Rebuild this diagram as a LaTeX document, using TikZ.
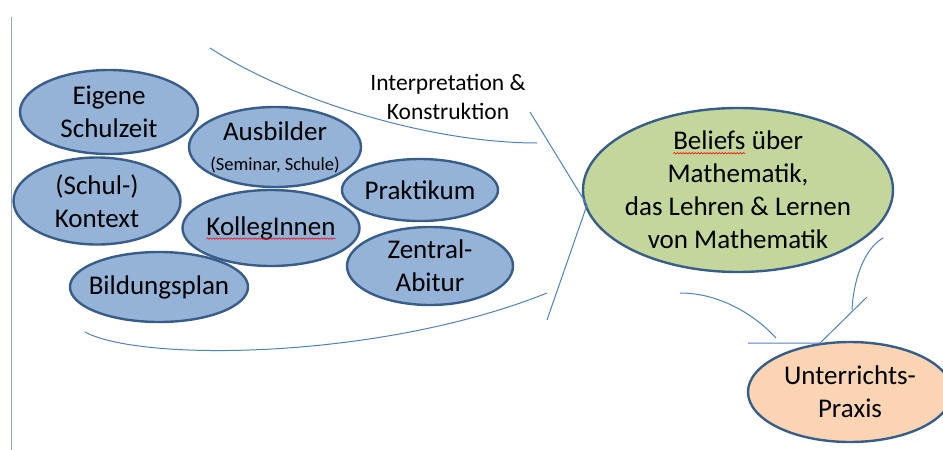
\documentclass[tikz,border=0pt]{standalone}
\usepackage{fontspec}
\setmainfont{Carlito}
\usepackage{tikz}
\usetikzlibrary{positioning,shapes.geometric,decorations.pathmorphing}

\definecolor{bubblefill}{RGB}{149,179,215}
\definecolor{bubbleline}{RGB}{56,93,138}
\definecolor{beliefsfill}{RGB}{195,214,155}
\definecolor{praxisfill}{RGB}{251,212,180}
\definecolor{funnel}{RGB}{79,129,189}
\definecolor{margin}{RGB}{160,168,184}

\newcommand{\bigtext}{\fontsize{27}{33}\selectfont}
\newcommand{\smalltext}{\fontsize{18.5}{22}\selectfont}
\newcommand{\labeltext}{\fontsize{23.5}{28.5}\selectfont}
\newcommand{\spellmark}[1]{\tikz[baseline=(sp.base)]{\node[shape=rectangle, draw=none, fill=none, minimum width=0pt, minimum height=0pt, inner sep=0pt, outer sep=0pt] (sp) {#1};
	\draw[red, line width=0.6pt, decorate, decoration={snake, amplitude=0.7pt, segment length=3pt}] ([yshift=-3.5pt]sp.base west) -- ([yshift=-3.5pt]sp.base east);}}

\tikzset{
	bubble/.style = {ellipse, draw=bubbleline, line width=2.4pt, fill=bubblefill, inner sep=-8pt, align=center, font=\bigtext},
	funnelline/.style = {draw=funnel, line width=1pt},
}

\begin{document}
\begin{tikzpicture}[x=1pt, y=-1pt]
		\clip (0,0) rectangle (943,450);
		\draw[margin, line width=1pt] (11,17) -- (11,450);
		
		\node[bubble, minimum width=178, minimum height=84] (eigene) at (109,112) {Eigene\\Schulzeit};
		\node[bubble, minimum width=172, minimum height=80] (ausbilder) at (275,147) {Ausbilder\\[-3pt]{\smalltext (Seminar, Schule)}};
		\node[bubble, minimum width=167, minimum height=87] (kontext) at (97,201) {(Schul-)\\Kontext};
		\node[bubble, minimum width=156, minimum height=62] (praktikum) at (420,190) {Praktikum};
		\node[bubble, minimum width=177, minimum height=76] (kollegen) at (271,228) {\spellmark{KollegInnen}};
		\node[bubble, minimum width=166, minimum height=78] (zentral) at (430,266) {Zentral-\\Abitur};
		\node[bubble, minimum width=178, minimum height=70] (bildung) at (159,287) {Bildungsplan};
		
		\node[font=\labeltext, align=center] (interp) at (448,97) {Interpretation \&\\Konstruktion};
		
		\node[bubble, fill=beliefsfill, minimum width=310, minimum height=164] (beliefs) at (738,190)
		{\spellmark{Beliefs} über\\Mathematik,\\das Lehren \& Lernen\\von Mathematik};
		\node[bubble, fill=praxisfill, minimum width=204, minimum height=100] (praxis) at (850,392) {Unterrichts-\\Praxis};
		
		% Trichter zu den Beliefs
		\coordinate (topin) at (210,48);
		\coordinate (topout) at (537,143);
		\coordinate (botin) at (85,332);
		\coordinate (botout) at (547,293);
		\coordinate (tip) at (587,205);
		\draw[funnelline] (topin) .. controls (290,100) and (430,143) .. (topout);
		\draw[funnelline] (botin) .. controls (140,362) and (380,360) .. (botout);
		\draw[funnelline] (530,112) -- (tip) -- (547,320);
		
		% Trichter zur Praxis
		\coordinate (hook) at (852,310);
		\coordinate (knee) at (820,343);
		\draw[funnelline] (883,238) .. controls (862,250) and (853,285) .. (hook);
		\draw[funnelline] (867,297) -- (knee) -- (748,343);
		\draw[funnelline] (680,293) .. controls (720,293) and (755,315) .. (776,338);
\end{tikzpicture}
\end{document}
